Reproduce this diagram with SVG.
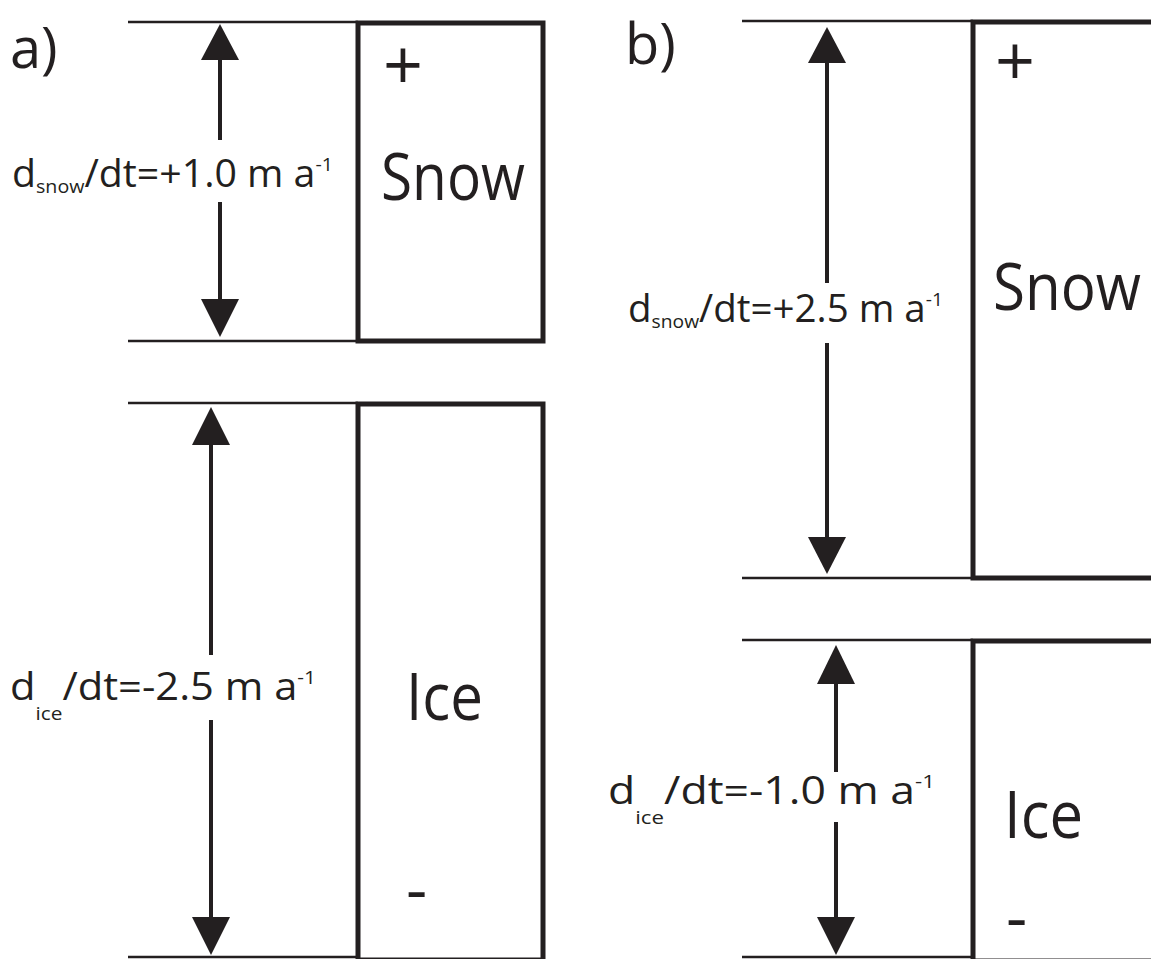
<svg xmlns="http://www.w3.org/2000/svg" width="1151" height="959" viewBox="0 0 1151 959">
<style>
text{font-family:"Open Sans","Liberation Sans",sans-serif;fill:#231f20}
.lbl{font-size:38px}
.sub{font-size:19px}
.big{font-size:66px}
.pm{font-size:70px}
.thin{stroke:#231f20;stroke-width:2.5;fill:none}
.box{stroke:#231f20;stroke-width:5;fill:#fff}
.ax{stroke:#231f20;stroke-width:4;fill:none}
.head{fill:#231f20}
</style>
<rect width="1151" height="959" fill="#fff"/>
<text x="10" y="68" style="font-size:56px">a)</text>
<text x="625" y="64" style="font-size:56px">b)</text>

<g id="a-snow">
<line class="thin" x1="128" y1="22" x2="358" y2="22"/>
<line class="thin" x1="128" y1="341" x2="358" y2="341"/>
<rect class="box" x="358" y="23" width="185" height="318"/>
<text class="pm" x="383" y="90">+</text>
<text class="big" x="381" y="200" textLength="144" lengthAdjust="spacingAndGlyphs">Snow</text>
</g>
<g id="a-ice">
<line class="thin" x1="128" y1="403" x2="358" y2="403"/>
<line class="thin" x1="128" y1="957" x2="358" y2="957"/>
<rect class="box" x="358" y="404" width="185" height="556"/>
<text class="big" x="406" y="720" textLength="77" lengthAdjust="spacingAndGlyphs">Ice</text>
<text class="big" x="406" y="912">-</text>
</g>
<g id="b-snow">
<line class="thin" x1="742" y1="21" x2="973" y2="21"/>
<line class="thin" x1="742" y1="578" x2="973" y2="578"/>
<rect class="box" x="973" y="22" width="200" height="556"/>
<text class="pm" x="995" y="86">+</text>
<text class="big" x="993" y="310" textLength="148" lengthAdjust="spacingAndGlyphs">Snow</text>
</g>
<g id="b-ice">
<line class="thin" x1="742" y1="640" x2="973" y2="640"/>
<line class="thin" x1="742" y1="957" x2="973" y2="957"/>
<rect class="box" x="973" y="641" width="200" height="320"/>
<text class="big" x="1004" y="838" textLength="79" lengthAdjust="spacingAndGlyphs">Ice</text>
<text class="big" x="1006" y="940">-</text>
</g>

<g id="connectors">
<line class="ax" x1="220" y1="58" x2="220" y2="140"/>
<line class="ax" x1="220" y1="202" x2="220" y2="302"/>
<polygon class="head" points="220,24 201,60 239,60"/>
<polygon class="head" points="220,337 201,299 239,299"/>

<line class="ax" x1="211" y1="440" x2="211" y2="655"/>
<line class="ax" x1="211" y1="720" x2="211" y2="922"/>
<polygon class="head" points="211,407 192,445 230,445"/>
<polygon class="head" points="211,955 192,917 230,917"/>

<line class="ax" x1="827" y1="58" x2="827" y2="283"/>
<line class="ax" x1="827" y1="343" x2="827" y2="540"/>
<polygon class="head" points="827,27 808,63 846,63"/>
<polygon class="head" points="827,574 808,537 846,537"/>

<line class="ax" x1="836" y1="680" x2="836" y2="772"/>
<line class="ax" x1="836" y1="822" x2="836" y2="922"/>
<polygon class="head" points="836,645 817,684 855,684"/>
<polygon class="head" points="836,955 817,917 855,917"/>
</g>

<g id="labels">
<text class="lbl" x="12" y="187" textLength="321" lengthAdjust="spacingAndGlyphs">d<tspan class="sub" dy="6">snow</tspan><tspan dy="-6">/dt=+1.0 m a</tspan><tspan class="sub" dy="-16">-1</tspan></text>
<text class="lbl" x="10" y="700" textLength="306" lengthAdjust="spacingAndGlyphs">d<tspan class="sub" dy="20">ice</tspan><tspan dy="-20">/dt=-2.5 m a</tspan><tspan class="sub" dy="-16">-1</tspan></text>
<text class="lbl" x="628" y="322" textLength="315" lengthAdjust="spacingAndGlyphs">d<tspan class="sub" dy="6">snow</tspan><tspan dy="-6">/dt=+2.5 m a</tspan><tspan class="sub" dy="-16">-1</tspan></text>
<text class="lbl" x="608" y="804" textLength="327" lengthAdjust="spacingAndGlyphs">d<tspan class="sub" dy="20">ice</tspan><tspan dy="-20">/dt=-1.0 m a</tspan><tspan class="sub" dy="-16">-1</tspan></text>
</g>
</svg>
